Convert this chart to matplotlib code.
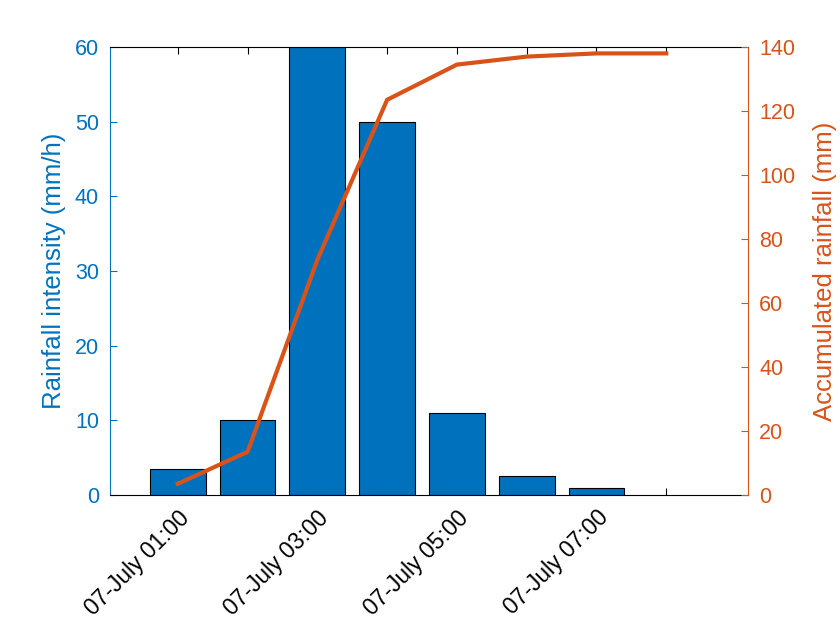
import matplotlib
matplotlib.use("Agg")
import matplotlib.pyplot as plt
import matplotlib.transforms as mtransforms
import numpy as np

hours = [1, 2, 3, 4, 5, 6, 7, 8]
intensity = [3.5, 10, 60, 50, 11, 2.5, 1, 0]
accumulated = [3.5, 13.5, 73.5, 123.5, 134.5, 137, 138, 138]
tick_labels = ["07-July 01:00", "07-July 03:00", "07-July 05:00", "07-July 07:00"]
tick_pos = [1, 3, 5, 7]

blue = "#0072BD"
orange = "#D95319"

plt.rcParams['font.family'] = ['Liberation Sans', 'DejaVu Sans']
fs = 15.5
xfs = 16.5
lfs = 18.5

fig = plt.figure(figsize=(8.4, 6.3), dpi=100)
ax = fig.add_axes([110/840, 1-495/630, (748-110)/840, (495-47)/630])
ax.bar(hours[:7], intensity[:7], width=0.8, color=blue, edgecolor='black', linewidth=0.8, zorder=2)
ax.set_ylim(0, 60)
ax.set_xlim(1-68/70, 8+82/70)
ax.set_yticks(np.arange(0, 61, 10))
labels = [tick_labels[tick_pos.index(h)] if h in tick_pos else "" for h in hours]
ax.set_xticks(hours)
ax.set_xticklabels(labels, rotation=45, ha='right', va='top',
                   rotation_mode='anchor', fontsize=xfs)
offset = mtransforms.ScaledTranslation(11/100, -3/100, fig.dpi_scale_trans)
for lab in ax.get_xticklabels():
    lab.set_transform(lab.get_transform() + offset)
ax.tick_params(axis='x', which='major', direction='in', length=5, top=True,
               colors='black', pad=8)
ax.tick_params(axis='y', direction='in', length=5, colors=blue, labelsize=fs, pad=8)
ax.set_ylabel("Rainfall intensity (mm/h)", color=blue, fontsize=lfs, labelpad=6)
ax.spines['left'].set_color(blue)
ax.spines['right'].set_visible(False)
for s in ax.spines.values():
    s.set_linewidth(0.8)

ax2 = ax.twinx()
ax2.plot(hours, accumulated, color=orange, linewidth=3, zorder=3, clip_on=False)
ax2.set_ylim(0, 140)
ax2.set_yticks(np.arange(0, 141, 20))
ax2.tick_params(axis='y', direction='in', length=5, colors=orange, labelsize=fs, pad=8)
ax2.set_ylabel("Accumulated rainfall (mm)", color=orange, fontsize=lfs, labelpad=13)
ax2.spines['right'].set_color(orange)
ax2.spines['left'].set_visible(False)
ax2.spines['top'].set_visible(False)
ax2.spines['bottom'].set_visible(False)
ax2.spines['right'].set_linewidth(0.8)

fig.savefig("out.png", dpi=100)
